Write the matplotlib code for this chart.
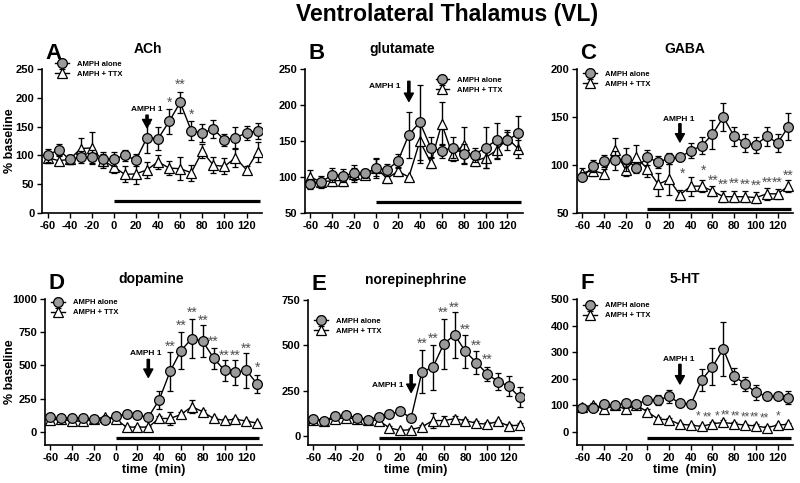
import numpy as np
import matplotlib.pyplot as plt

plt.rcParams['font.family'] = ['Liberation Sans', 'DejaVu Sans']
plt.rcParams['font.weight'] = 'bold'
plt.rcParams['axes.unicode_minus'] = False

time = np.arange(-60, 140, 10)

# A: ACh
ach_amph = [100, 110, 93, 97, 97, 94, 94, 100, 92, 131, 129, 159, 192, 143, 139, 146, 127, 131, 139, 143]
ach_amph_err = [12, 10, 8, 10, 12, 12, 12, 10, 10, 26, 20, 22, 18, 16, 15, 15, 10, 18, 12, 14]
ach_ttx = [96, 91, 93, 112, 113, 91, 80, 67, 68, 75, 89, 78, 77, 70, 107, 83, 81, 96, 75, 106]
ach_ttx_err = [10, 8, 8, 18, 27, 12, 10, 14, 18, 14, 12, 12, 20, 14, 12, 14, 14, 16, 6, 18]

# B: glutamate
glu_amph = [90, 93, 103, 102, 105, 105, 112, 110, 122, 159, 176, 141, 136, 141, 132, 131, 141, 151, 151, 161]
glu_amph_err = [7, 8, 10, 9, 12, 6, 14, 8, 10, 32, 52, 14, 10, 14, 14, 10, 28, 24, 14, 24]
glu_ttx = [100, 93, 95, 95, 104, 103, 113, 98, 108, 100, 150, 120, 174, 130, 145, 122, 127, 137, 154, 139]
glu_ttx_err = [10, 6, 8, 8, 8, 5, 12, 6, 6, 0, 30, 8, 30, 8, 25, 6, 14, 12, 8, 12]

# C: GABA
gaba_amph = [87, 99, 104, 105, 106, 97, 108, 103, 107, 108, 115, 120, 132, 150, 130, 123, 121, 130, 123, 140]
gaba_amph_err = [3, 6, 6, 10, 12, 5, 8, 6, 6, 3, 8, 9, 15, 15, 10, 9, 8, 10, 9, 14]
gaba_ttx = [92, 94, 91, 116, 95, 108, 96, 80, 85, 69, 78, 78, 73, 67, 67, 67, 66, 70, 70, 78]
gaba_ttx_err = [5, 5, 5, 12, 6, 13, 8, 12, 16, 5, 10, 6, 5, 6, 6, 6, 6, 6, 5, 6]

# D: dopamine
da_amph = [110, 100, 105, 100, 95, 90, 120, 130, 125, 110, 240, 455, 612, 703, 682, 555, 462, 448, 462, 360]
da_amph_err = [10, 10, 10, 10, 10, 10, 10, 10, 10, 10, 70, 145, 140, 150, 120, 80, 80, 95, 130, 65]
da_ttx = [90, 95, 80, 80, 95, 110, 95, 35, 35, 35, 100, 100, 130, 190, 150, 100, 85, 95, 80, 65]
da_ttx_err = [10, 10, 10, 10, 10, 10, 10, 10, 10, 10, 15, 50, 20, 50, 15, 10, 10, 10, 10, 10]

# E: norepinephrine
ne_amph = [95, 85, 110, 115, 100, 90, 105, 120, 135, 100, 355, 378, 507, 558, 467, 405, 343, 300, 275, 213]
ne_amph_err = [10, 10, 10, 10, 10, 10, 10, 10, 10, 10, 120, 125, 140, 125, 90, 65, 40, 45, 55, 55]
ne_ttx = [90, 85, 95, 100, 95, 90, 85, 45, 30, 35, 50, 85, 85, 95, 85, 70, 65, 80, 55, 60]
ne_ttx_err = [10, 10, 10, 10, 10, 10, 10, 10, 10, 10, 10, 40, 25, 15, 10, 10, 10, 10, 10, 10]

# F: 5-HT
ht_amph = [90, 88, 103, 100, 107, 105, 120, 120, 133, 107, 103, 195, 245, 312, 210, 180, 148, 133, 133, 128]
ht_amph_err = [10, 10, 10, 10, 10, 10, 10, 20, 25, 10, 10, 40, 70, 100, 30, 25, 30, 10, 10, 25]
ht_ttx = [93, 100, 85, 100, 85, 100, 75, 48, 45, 28, 25, 20, 30, 35, 30, 25, 22, 15, 25, 28]
ht_ttx_err = [8, 8, 8, 8, 8, 8, 10, 8, 8, 6, 6, 6, 6, 8, 6, 6, 6, 6, 6, 6]

# significance stars: x, y, text
ach_stars = ([50, 60, 70], [192, 222, 170], ['*', '**', '*'])
gaba_stars = ([32, 52, 61, 70, 80, 90, 100, 110, 120, 130],
              [91, 94, 84, 79, 80, 79, 78, 82, 82, 89],
              ['*', '*', '**', '**', '**', '**', '**', '**', '**', '**'])
da_stars = ([50, 60, 70, 80, 90, 100, 110, 120, 130],
            [642, 798, 894, 836, 680, 572, 572, 622, 479],
            ['**', '**', '**', '**', '**', '**', '**', '**', '*'])
ne_stars = ([40, 50, 60, 70, 80, 90, 100],
            [511, 539, 682, 710, 585, 498, 419],
            ['**', '**', '**', '**', '**', '**', '**'])
ht_stars = ([47, 55, 64, 72, 81, 90, 99, 108, 120],
            [57, 55, 57, 60, 57, 55, 52, 50, 57],
            ['*', '**', '*', '**', '**', '**', '**', '**', '*'])

fig = plt.figure(figsize=(8, 4.83), dpi=100)

fig.text(0.559, 1 - 21/483, 'Ventrolateral Thalamus (VL)', ha='center', va='baseline',
         fontsize=16.5, fontweight='bold')


def panel(rect, letter, title, amph, amph_err, ttx, ttx_err, ylim, yticks, bar_y,
          leg_pos, arrow, stars=None, star_size=10, ylabel=None, xlabel=False,
          title_x=0.5):
    ax = fig.add_axes(rect)
    ax.errorbar(time, ttx, yerr=ttx_err, color='black', lw=1, marker='^', ms=7,
                mfc='white', mec='black', mew=0.9, capsize=2.5, capthick=1,
                elinewidth=1, zorder=3, label='AMPH + TTX')
    ax.errorbar(time, amph, yerr=amph_err, color='black', lw=1, marker='o', ms=7,
                mfc='#9a9a9a', mec='black', mew=0.9, capsize=2.5, capthick=1,
                elinewidth=1, zorder=4, label='AMPH alone')
    ax.plot([0, 132], [bar_y, bar_y], color='black', lw=2.3, solid_capstyle='butt')

    # AMPH 1 arrow
    tx, ty, y0, y1, ha = arrow
    ax.text(tx, ty, 'AMPH 1', ha=ha, va='center', fontsize=6, fontweight='bold')
    ax.annotate('', xy=(30, y1), xytext=(30, y0),
                arrowprops=dict(width=1.6, headwidth=6.5, headlength=6,
                                color='black', shrink=0))

    if stars is not None:
        for sx, sy, s in zip(*stars):
            ax.text(sx, sy, s, ha='center', va='center', fontsize=star_size,
                    color='#505050', fontweight='normal')

    ax.set_xlim(-65, 134)
    ax.set_ylim(*ylim)
    ax.set_xticks(np.arange(-60, 121, 20))
    ax.set_yticks(yticks)
    ax.tick_params(labelsize=8, width=1, length=3.5, pad=2)
    for lab in ax.get_xticklabels() + ax.get_yticklabels():
        lab.set_fontweight('bold')
    ax.spines['top'].set_visible(False)
    ax.spines['right'].set_visible(False)
    ax.spines['left'].set_linewidth(1.2)
    ax.spines['bottom'].set_linewidth(1.2)

    h, l = ax.get_legend_handles_labels()
    ax.legend(h[::-1], l[::-1], loc='upper left', bbox_to_anchor=leg_pos,
              frameon=False, handlelength=1.8, handletextpad=1.0,
              labelspacing=0.35, borderaxespad=0, borderpad=0,
              prop={'weight': 'bold', 'size': 5.5})

    ax.text(0.015, 1.11, letter, transform=ax.transAxes, fontsize=16,
            fontweight='bold', ha='left', va='center')
    ax.text(title_x, 1.14, title, transform=ax.transAxes, fontsize=10,
            fontweight='bold', ha='center', va='center')
    if ylabel is not None:
        ax.set_ylabel('% baseline', fontsize=9, fontweight='bold')
        ax.yaxis.set_label_coords(ylabel, 0.5)
    if xlabel:
        ax.set_xlabel('time  (min)', fontsize=9, fontweight='bold', labelpad=1)
    return ax


panel([0.0525, 0.559, 0.275, 0.298], 'A', 'ACh', ach_amph, ach_amph_err,
      ach_ttx, ach_ttx_err, (0, 250), [0, 50, 100, 150, 200, 250], 20,
      (0.06, 1.06), (30, 180, 170, 148, 'center'), ach_stars, ylabel=-0.12, title_x=0.48)

panel([0.381, 0.559, 0.2725, 0.298], 'B', 'glutamate', glu_amph, glu_amph_err,
      glu_ttx, glu_ttx_err, (50, 250), [50, 100, 150, 200, 250], 65,
      (0.6, 0.95), (22, 226, 233, 205, 'right'), None, title_x=0.445)

panel([0.721, 0.559, 0.27, 0.298], 'C', 'GABA', gaba_amph, gaba_amph_err,
      gaba_ttx, gaba_ttx_err, (50, 200), [50, 100, 150, 200], 54,
      (0.03, 0.99), (29, 147, 143, 124, 'center'), gaba_stars, title_x=0.5)

panel([0.056, 0.0787, 0.271, 0.302], 'D', 'dopamine', da_amph, da_amph_err,
      da_ttx, da_ttx_err, (-100, 1000), [0, 250, 500, 750, 1000], -45,
      (0.03, 1.0), (28, 587, 545, 410, 'center'), da_stars, ylabel=-0.135,
      xlabel=True, title_x=0.49)

panel([0.385, 0.0787, 0.27, 0.300], 'E', 'norepinephrine', ne_amph, ne_amph_err,
      ne_ttx, ne_ttx_err, (-50, 750), [0, 250, 500, 750], -12,
      (0.03, 0.88), (23, 281, 338, 240, 'right'), ne_stars, xlabel=True, title_x=0.5)

panel([0.721, 0.0787, 0.27, 0.302], 'F', '5-HT', ht_amph, ht_amph_err,
      ht_ttx, ht_ttx_err, (-50, 500), [0, 100, 200, 300, 400, 500], -24,
      (0.03, 0.98), (29, 271, 254, 180, 'center'), ht_stars, star_size=8.5,
      xlabel=True, title_x=0.5)

fig.savefig('out.png', dpi=100)
